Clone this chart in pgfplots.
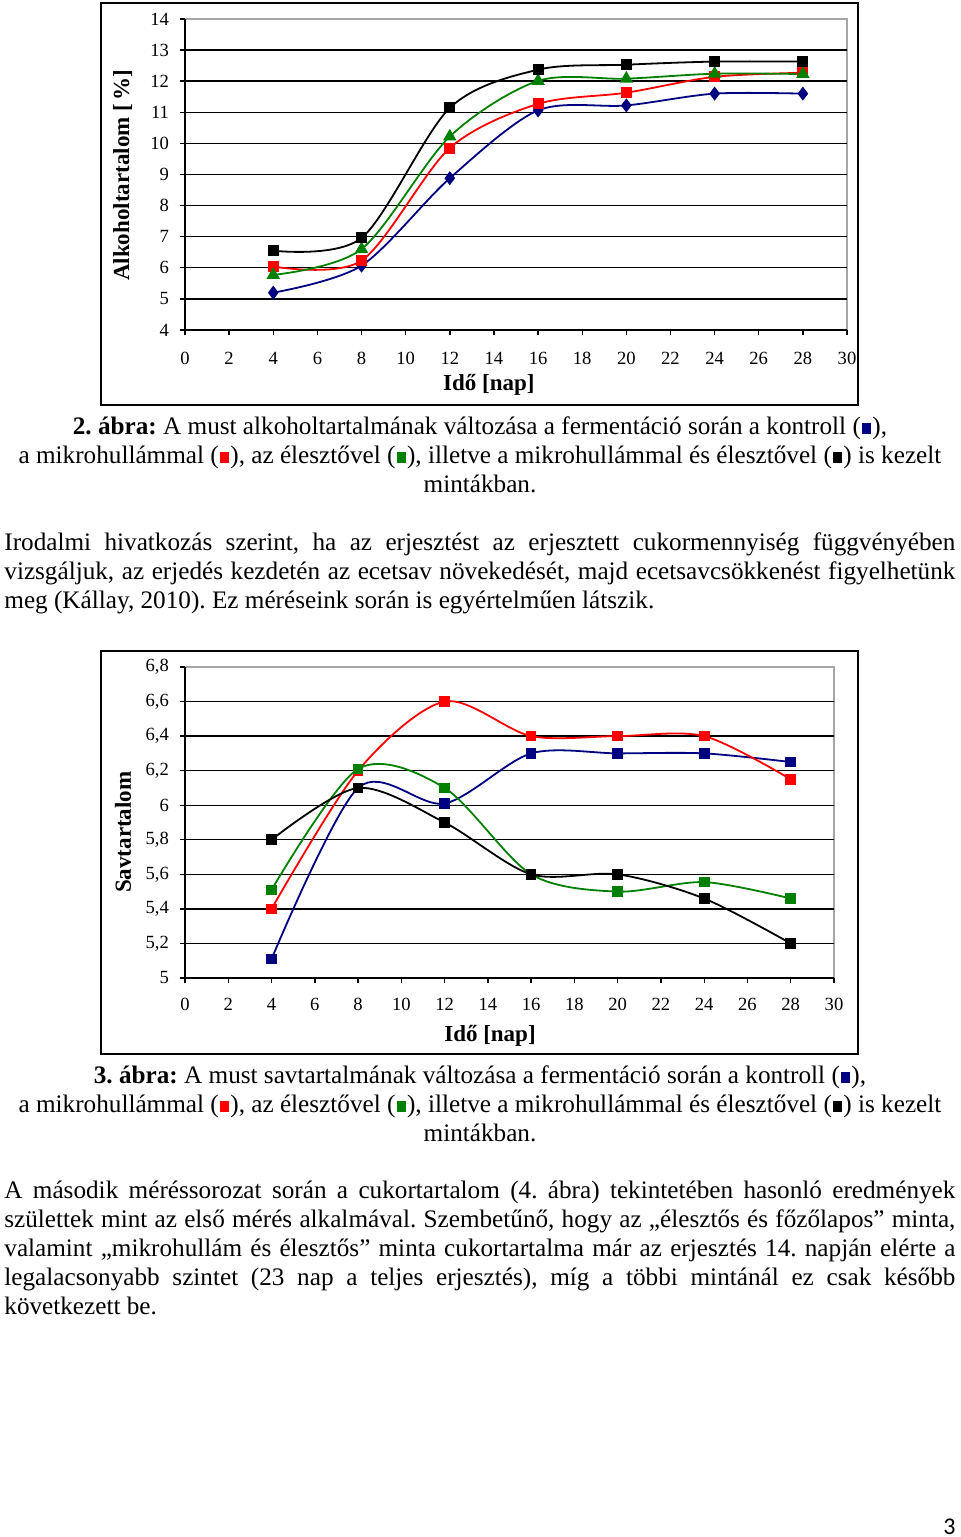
\documentclass[border=0pt]{standalone}
\usepackage{pgfplots}
\pgfplotsset{compat=1.18}
\usepackage{fontspec}
\setmainfont{Liberation Serif}
\newfontfamily\pagefont{Carlito}
\definecolor{cblue}{RGB}{0,0,128}
\definecolor{cred}{RGB}{255,0,0}
\definecolor{cgreen}{RGB}{0,128,0}
\newcommand{\sq}[1]{\kern0.06em\textcolor{#1}{\rule[0.02em]{0.34em}{0.46em}}\kern0.06em}
\newcommand{\bodyfont}{\fontsize{12.6}{14.5}\selectfont}
\newcommand{\jline}[1]{\bodyfont\makebox[475.5pt][s]{#1}}
\pgfplotsset{pagechart/.style={
  scale only axis, xmin=0, xmax=30, xtick={0,2,...,30},
  axis x line*=bottom, axis y line*=left,
  axis line style={-, black, line width=0.8pt},
  tick align=outside, major tick length=2.5pt,
  tick style={black, line width=0.7pt},
  ymajorgrids, grid style={black, line width=0.7pt},
  ticklabel style={font=\fontsize{9.3}{10}\selectfont},
  /pgf/number format/assume math mode=true,
  /pgf/number format/use comma,
  label style={font=\bfseries\fontsize{11.5}{12}\selectfont},
  every axis plot/.append style={smooth, line width=0.9pt},
  clip=false}}
\begin{document}
\frenchspacing
\begin{tikzpicture}
\begin{scope}[x=0.5pt,y=0.5pt]
\path[use as bounding box] (0,0) rectangle (960,1537);
% frames
\draw[line width=0.9pt] (101,1534) rectangle (858,1132);
\draw[gray!70, line width=0.8pt] (185,1207) rectangle (847,1518);
\draw[line width=0.9pt] (101,886) rectangle (858,483);
\draw[gray!70, line width=0.8pt] (185,559) rectangle (834,870);

% ---------- Caption 2 ----------
\node[anchor=base, inner sep=0, font=\bodyfont] at (480,1102) {\textbf{2. ábra:} A must alkoholtartalmának változása a fermentáció során a kontroll (\sq{cblue}),};
\node[anchor=base, inner sep=0, font=\bodyfont] at (480,1073) {a mikrohullámmal (\sq{cred}), az élesztővel (\sq{cgreen}), illetve a mikrohullámmal és élesztővel (\sq{black}) is kezelt};
\node[anchor=base, inner sep=0, font=\bodyfont] at (480,1044) {mintákban.};

% ---------- Paragraph 1 ----------
\node[anchor=base west, inner sep=0] at (4,986) {\jline{Irodalmi hivatkozás szerint, ha az erjesztést az erjesztett cukormennyiség függvényében}};
\node[anchor=base west, inner sep=0] at (4,957) {\jline{vizsgáljuk, az erjedés kezdetén az ecetsav növekedését, majd ecetsavcsökkenést figyelhetünk}};
\node[anchor=base west, inner sep=0, font=\bodyfont] at (4,928) {meg (Kállay, 2010). Ez méréseink során is egyértelműen látszik.};

% ---------- Caption 3 ----------
\node[anchor=base, inner sep=0, font=\bodyfont] at (480,453) {\textbf{3. ábra:} A must savtartalmának változása a fermentáció során a kontroll (\sq{cblue}),};
\node[anchor=base, inner sep=0, font=\bodyfont] at (480,424) {a mikrohullámmal (\sq{cred}), az élesztővel (\sq{cgreen}), illetve a mikrohullámmal és élesztővel (\sq{black}) is kezelt};
\node[anchor=base, inner sep=0, font=\bodyfont] at (480,395) {mintákban.};

% ---------- Paragraph 2 ----------
\node[anchor=base west, inner sep=0] at (4,338) {\jline{A második méréssorozat során a cukortartalom (4. ábra) tekintetében hasonló eredmények}};
\node[anchor=base west, inner sep=0] at (4,309) {\jline{születtek mint az első mérés alkalmával. Szembetűnő, hogy az „élesztős és főzőlapos” minta,}};
\node[anchor=base west, inner sep=0] at (4,280) {\jline{valamint „mikrohullám és élesztős” minta cukortartalma már az erjesztés 14. napján elérte a}};
\node[anchor=base west, inner sep=0] at (4,251) {\jline{legalacsonyabb szintet (23 nap a teljes erjesztés), míg a többi mintánál ez csak később}};
\node[anchor=base west, inner sep=0, font=\bodyfont] at (4,222) {következett be.};

% ---------- page number ----------
\node[anchor=base east, inner sep=0, font=\pagefont\fontsize{12}{14}\selectfont] at (956,3) {3};
\end{scope}

% ---------- Chart 1 ----------
\begin{axis}[pagechart,
  at={(92.5pt,603.5pt)}, anchor=south west,
  width=331pt, height=155.5pt,
  ymin=4, ymax=14, ytick={4,...,13},
  extra y ticks={14}, extra y tick style={grid=none},
  xticklabel shift=5pt, yticklabel shift=2pt,
  xlabel={Idő [nap]}, ylabel={Alkoholtartalom [\,\%]},
  xlabel style={at={(axis description cs:0.459,-0.177)}, anchor=center},
  ylabel style={at={(axis description cs:-0.094,0.498)}, anchor=center},
]
\addplot[color=cblue, mark=diamond*, mark size=2.8pt, mark options={solid}] coordinates {
 (4,5.2) (8,6.07) (12,8.88) (16,11.06) (20,11.22) (24,11.6) (28,11.6)};
\addplot[color=cred, mark=square*, mark size=2.3pt] coordinates {
 (4,6.04) (8,6.23) (12,9.85) (16,11.27) (20,11.63) (24,12.14) (28,12.27)};
\addplot[color=cgreen, mark=triangle*, mark size=3pt] coordinates {
 (4,5.77) (8,6.6) (12,10.22) (16,12.01) (20,12.08) (24,12.24) (28,12.23)};
\addplot[color=black, mark=square*, mark size=2.3pt] coordinates {
 (4,6.55) (8,6.96) (12,11.14) (16,12.37) (20,12.53) (24,12.63) (28,12.63)};
\end{axis}

% ---------- Chart 2 ----------
\begin{axis}[pagechart,
  at={(92.5pt,279.5pt)}, anchor=south west,
  width=324.5pt, height=155.5pt,
  ymin=5, ymax=6.8, ytick={5,5.2,5.4,5.6,5.8,6,6.2,6.4,6.6},
  extra y ticks={6.8}, extra y tick style={grid=none},
  xticklabel shift=4pt, yticklabel shift=2pt,
  xlabel={Idő [nap]}, ylabel={Savtartalom},
  xlabel style={at={(axis description cs:0.47,-0.1865)}, anchor=center},
  ylabel style={at={(axis description cs:-0.0955,0.469)}, anchor=center},
]
\addplot[color=cblue, mark=square*, mark size=2.2pt] coordinates {
 (4,5.11) (8,6.1) (12,6.01) (16,6.3) (20,6.3) (24,6.3) (28,6.25)};
\addplot[color=cred, mark=square*, mark size=2.2pt] coordinates {
 (4,5.4) (8,6.2) (12,6.6) (16,6.4) (20,6.4) (24,6.4) (28,6.15)};
\addplot[color=cgreen, mark=square*, mark size=2.2pt] coordinates {
 (4,5.51) (8,6.21) (12,6.1) (16,5.6) (20,5.5) (24,5.555) (28,5.46)};
\addplot[color=black, mark=square*, mark size=2.2pt] coordinates {
 (4,5.8) (8,6.1) (12,5.9) (16,5.6) (20,5.6) (24,5.46) (28,5.2)};
\end{axis}
\end{tikzpicture}
\end{document}
